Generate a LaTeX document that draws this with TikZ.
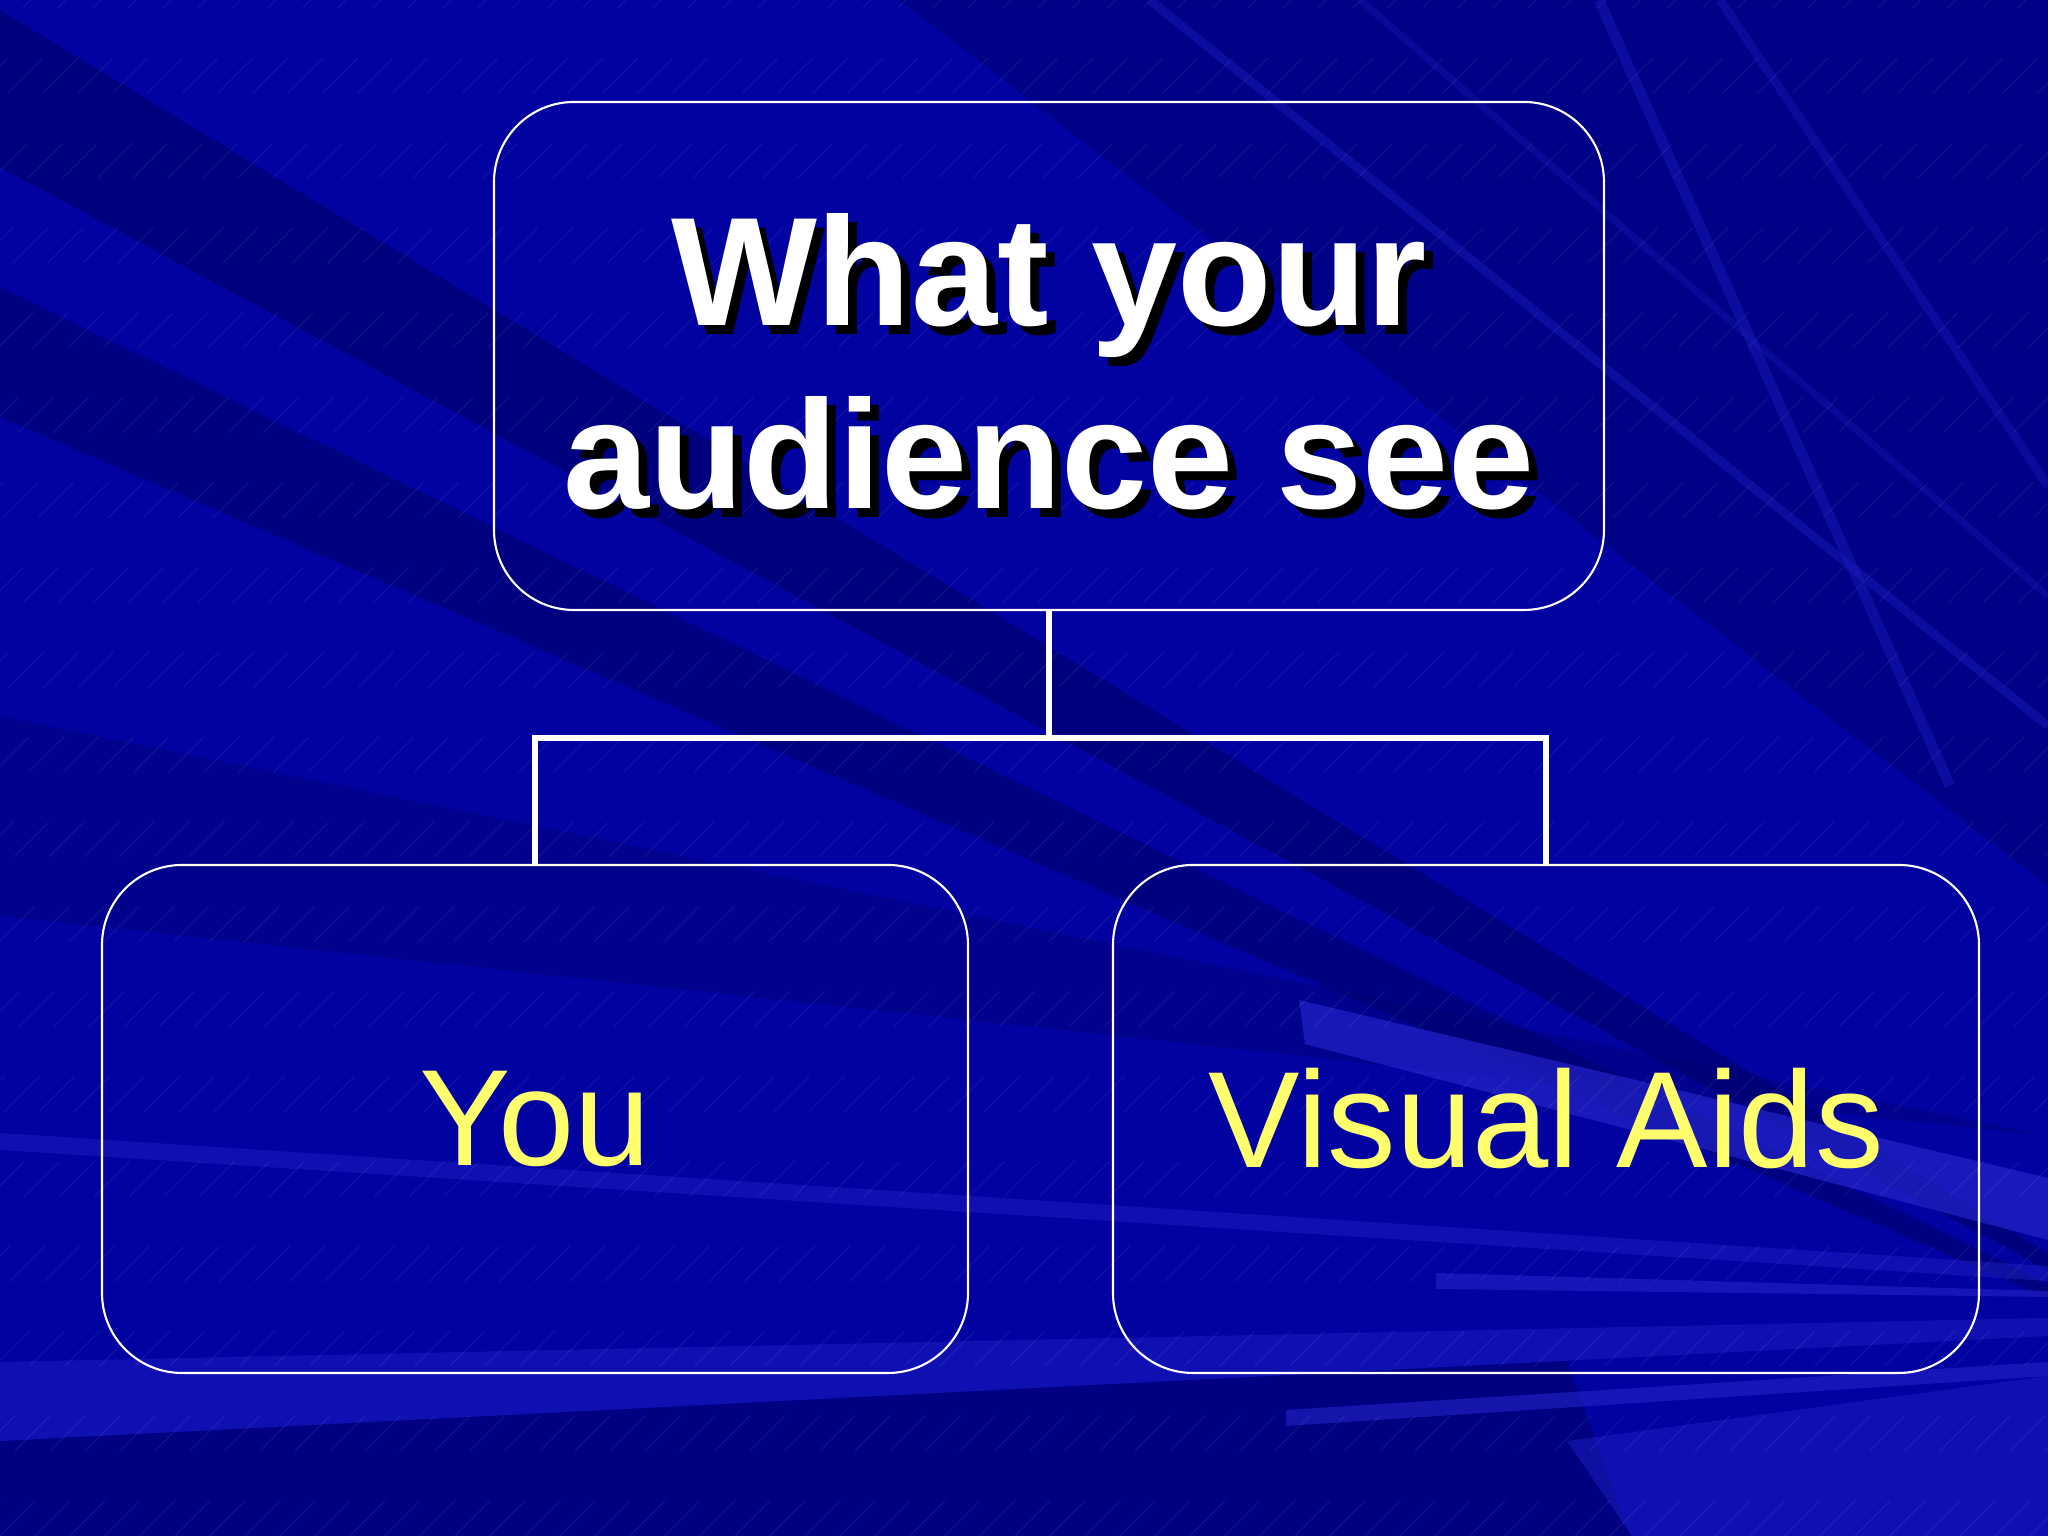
\documentclass[tikz,border=0pt]{standalone}
\usepackage{fontspec}
\setmainfont{Liberation Sans}
\usepackage{xcolor}
\usetikzlibrary{positioning, calc, backgrounds}
\definecolor{slideblue}{RGB}{2,2,160}
\definecolor{darkstreak}{RGB}{0,0,100}
\definecolor{lightstreak}{RGB}{35,35,200}
\definecolor{labelyellow}{RGB}{255,255,110}
\newcommand{\shline}[1]{\leavevmode\rlap{\kern2.5pt\raisebox{-2.5pt}{\textcolor{black}{#1}}}#1}
\tikzstyle{topbox} = [rectangle, rounded corners=0.8cm, draw=white, line width=0.6pt, minimum width=11.1cm, minimum height=5.08cm]
\tikzstyle{headtext} = [align=center, text=white, font=\fontsize{44}{52}\selectfont\bfseries]
\tikzstyle{leafbox} = [rectangle, rounded corners=0.8cm, draw=white, line width=0.6pt, minimum width=8.66cm, minimum height=5.08cm, text=labelyellow, font=\fontsize{39}{46}\selectfont]
\tikzstyle{link} = [draw=white, line width=1.6pt]
\tikzstyle{streak} = [fill=darkstreak]
\tikzstyle{glint} = [fill=lightstreak]

\begin{document}
\begin{tikzpicture}

% Background
\fill[slideblue] (0,0) rectangle (20.48,15.36);
\useasboundingbox (0,0) rectangle (20.48,15.36);
\begin{scope}
\clip (0,0) rectangle (20.48,15.36);
\fill[streak, opacity=0.55] (0,15.26) -- (0,13.69) -- (23,1.3) -- cycle;
\fill[streak, opacity=0.5] (0,12.49) -- (0,11.19) -- (23,1.3) -- cycle;
\fill[streak, opacity=0.3] (0,8.2) -- (0,6.2) -- (20.48,4.0) -- cycle;
\fill[streak, opacity=0.4] (9,15.36) -- (20.48,15.36) -- (20.48,6.5) -- cycle;
\fill[streak, opacity=0.5] (0,0.95) -- (0,0) -- (16.3,0) -- (15.67,1.75) -- cycle;
\fill[glint, opacity=0.45] (0,4.03) -- (20.48,2.7) -- (20.48,2.55) -- (0,3.86) -- cycle;
\fill[glint, opacity=0.45] (0,1.74) -- (20.48,2.18) -- (20.48,2.0) -- (0,0.95) -- cycle;
\fill[glint, opacity=0.7] (12.99,5.36) -- (13.05,4.92) -- (20.48,2.96) -- (20.48,3.58) -- cycle;
\fill[glint, opacity=0.6] (14.36,2.63) -- (14.36,2.47) -- (20.48,2.39) -- (20.48,2.45) -- cycle;
\fill[glint, opacity=0.6] (12.86,1.26) -- (12.86,1.10) -- (20.48,1.6) -- (20.48,1.74) -- cycle;
\fill[glint, opacity=0.45] (20.48,1.6) -- (15.67,0.95) -- (16.32,0) -- (20.48,0) -- cycle;
\draw[lightstreak, opacity=0.35, line width=2.5pt] (11.5,15.36) -- (20.48,8.1);
\draw[lightstreak, opacity=0.35, line width=3pt] (15.99,15.36) -- (19.5,7.5);
\draw[lightstreak, opacity=0.3, line width=2.5pt] (17.2,15.36) -- (20.48,10.5);
\draw[lightstreak, opacity=0.25, line width=2pt] (13.6,15.36) -- (20.48,9.4);
\foreach \k in {-15.4,-15.05,...,20.5}
  \draw[white, opacity=0.07, line width=0.3pt, dash pattern=on 0.5cm off 0.7cm] (\k,0) -- ++(15.36,15.36);
\end{scope}

% Boxes
\node (top) [topbox] at (10.49,11.80) {};
\node (toptext) [headtext] at (10.49,11.70) {\shline{What your}\\\shline{audience see}};
\node (you) [leafbox] at (5.35,4.17) {\raisebox{-4pt}{You}};
\node (aids) [leafbox] at (15.46,4.17) {\raisebox{-4pt}{Visual Aids}};

% Connectors
\coordinate (split) at (10.49,7.98);
\draw [link] (top.south) -- (split);
\draw [link] (you.north) |- (split) -| (aids.north);

\end{tikzpicture}
\end{document}
